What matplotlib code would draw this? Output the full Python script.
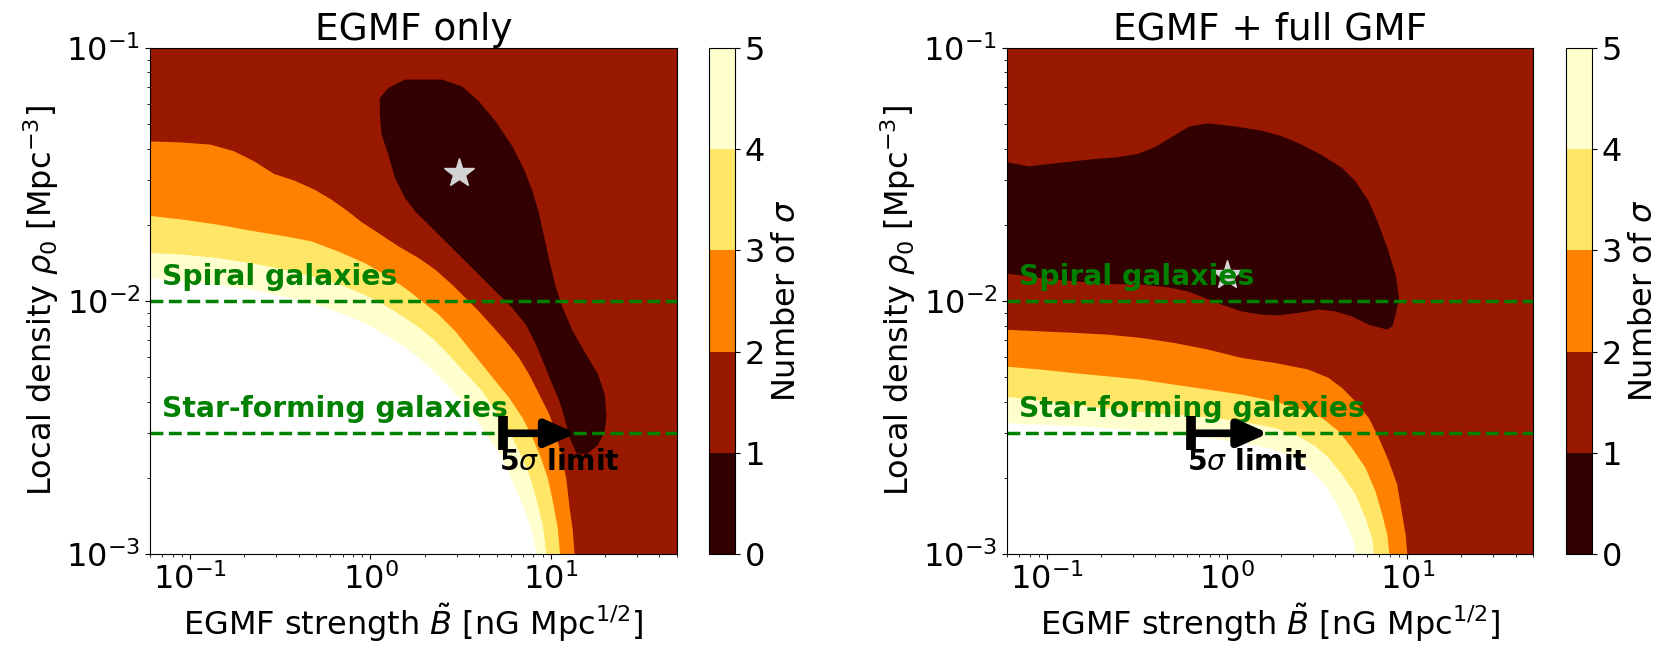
import numpy as np
import matplotlib
matplotlib.use('Agg')
import matplotlib.pyplot as plt
from matplotlib.colors import BoundaryNorm, ListedColormap
from matplotlib.cm import ScalarMappable

sigma_levels = [0, 1, 2, 3, 4, 5]
b_range = (0.06, 50.0)
rho_range = (1e-3, 1e-1)
rho_spiral = 0.01
rho_starforming = 0.003

# contour boundaries in log10(B) and log10(rho0); each band curve runs from the
# left edge down to the bottom edge, the region below/left of it is above that sigma

# --- EGMF only ---
egmf_2sig_b = [-1.25, -1.055, -0.887, -0.757, -0.645, -0.534, -0.422, -0.310, -0.217, -0.124,
               -0.050, 0.043, 0.155, 0.266, 0.359, 0.452, 0.527, 0.601, 0.676, 0.750,
               0.824, 0.880, 0.936, 0.992, 1.029, 1.057, 1.085, 1.104, 1.122, 1.137]
egmf_2sig_rho = [-1.369, -1.373, -1.382, -1.408, -1.448, -1.498, -1.524, -1.560, -1.599, -1.646,
                 -1.688, -1.731, -1.784, -1.830, -1.876, -1.935, -1.988, -2.041, -2.100, -2.159,
                 -2.225, -2.291, -2.370, -2.449, -2.528, -2.607, -2.700, -2.818, -2.910, -3.05]

egmf_3sig_b = [-1.25, -1.036, -0.850, -0.664, -0.478, -0.329, -0.180, -0.031, 0.080, 0.192,
               0.285, 0.378, 0.471, 0.545, 0.620, 0.694, 0.769, 0.843, 0.899, 0.945,
               0.983, 1.011, 1.038, 1.057]
egmf_3sig_rho = [-1.661, -1.679, -1.698, -1.722, -1.744, -1.764, -1.804, -1.850, -1.896, -1.949,
                 -2.001, -2.054, -2.120, -2.186, -2.252, -2.318, -2.383, -2.462, -2.541, -2.620,
                 -2.700, -2.792, -2.897, -3.05]

egmf_4sig_b = [-1.25, -1.036, -0.850, -0.664, -0.478, -0.292, -0.143, 0.006, 0.136, 0.248,
               0.341, 0.434, 0.527, 0.620, 0.694, 0.769, 0.824, 0.880, 0.918, 0.955, 0.983]
egmf_4sig_rho = [-1.809, -1.817, -1.830, -1.850, -1.876, -1.909, -1.942, -1.988, -2.041, -2.094,
                 -2.146, -2.212, -2.285, -2.357, -2.436, -2.515, -2.594, -2.686, -2.779, -2.884, -3.05]

egmf_5sig_b = [-1.25, -1.036, -0.850, -0.664, -0.478, -0.292, -0.143, -0.013, 0.099, 0.211,
               0.322, 0.415, 0.508, 0.583, 0.657, 0.731, 0.787, 0.843, 0.890, 0.936]
egmf_5sig_rho = [-1.909, -1.920, -1.935, -1.955, -1.982, -2.017, -2.054, -2.094, -2.140, -2.192,
                 -2.258, -2.324, -2.397, -2.462, -2.541, -2.620, -2.713, -2.805, -2.897, -3.05]

egmf_1sig_b = [0.192, 0.397, 0.508, 0.601, 0.694, 0.787, 0.852, 0.899, 0.936, 0.964,
               0.992, 1.029, 1.066, 1.122, 1.196, 1.262, 1.299, 1.308, 1.299, 1.262,
               1.196, 1.141, 1.104, 1.076, 1.048, 1.001, 0.964, 0.918, 0.862, 0.787,
               0.694, 0.601, 0.508, 0.415, 0.322, 0.248, 0.192, 0.136, 0.099, 0.062,
               0.052, 0.052, 0.099]
egmf_1sig_rho = [-1.125, -1.125, -1.152, -1.211, -1.290, -1.389, -1.481, -1.567, -1.659, -1.751,
                 -1.843, -1.949, -2.028, -2.120, -2.212, -2.291, -2.370, -2.449, -2.515, -2.568,
                 -2.607, -2.601, -2.541, -2.462, -2.397, -2.318, -2.252, -2.173, -2.094, -2.028,
                 -1.962, -1.896, -1.830, -1.764, -1.698, -1.646, -1.593, -1.514, -1.422, -1.343,
                 -1.264, -1.198, -1.158]

egmf_best = (3.1, 0.032)
egmf_limit = (5.4, 13.8)

# --- EGMF + full GMF ---
gmf_2sig_b = [-1.25, -1.036, -0.850, -0.664, -0.478, -0.292, -0.106, 0.080, 0.266, 0.452,
              0.564, 0.639, 0.713, 0.787, 0.843, 0.899, 0.945, 0.973, 0.992, 1.007]
gmf_2sig_rho = [-2.113, -2.120, -2.126, -2.133, -2.146, -2.166, -2.192, -2.225, -2.245, -2.271,
                -2.304, -2.344, -2.397, -2.462, -2.541, -2.634, -2.726, -2.845, -2.924, -3.05]

gmf_3sig_b = [-1.25, -1.036, -0.850, -0.664, -0.478, -0.292, -0.106, 0.080, 0.266, 0.415,
              0.527, 0.620, 0.694, 0.769, 0.824, 0.862, 0.890, 0.908]
gmf_3sig_rho = [-2.258, -2.271, -2.285, -2.298, -2.311, -2.331, -2.350, -2.370, -2.397, -2.429,
                -2.462, -2.515, -2.581, -2.660, -2.752, -2.845, -2.924, -3.05]

gmf_4sig_b = [-1.25, -1.036, -0.850, -0.664, -0.478, -0.292, -0.106, 0.080, 0.266, 0.397,
              0.490, 0.564, 0.639, 0.713, 0.769, 0.806, 0.824]
gmf_4sig_rho = [-2.377, -2.394, -2.410, -2.426, -2.439, -2.449, -2.460, -2.476, -2.502, -2.535,
                -2.574, -2.620, -2.686, -2.765, -2.858, -2.937, -3.05]

gmf_5sig_b = [-1.25, -1.036, -0.850, -0.664, -0.478, -0.292, -0.106, 0.080, 0.229, 0.359,
              0.452, 0.545, 0.611, 0.666, 0.704, 0.722]
gmf_5sig_rho = [-2.482, -2.489, -2.495, -2.502, -2.512, -2.528, -2.541, -2.561, -2.581, -2.614,
                -2.660, -2.726, -2.805, -2.884, -2.950, -3.05]

gmf_1sig_b = [-1.25, -1.101, -0.943, -0.738, -0.608, -0.496, -0.403, -0.310, -0.208, -0.106,
              0.043, 0.192, 0.304, 0.415, 0.527, 0.639, 0.713, 0.787, 0.843, 0.890,
              0.936, 0.955, 0.936, 0.918, 0.890, 0.787, 0.694, 0.601, 0.508, 0.397,
              0.285, 0.192, 0.080, -0.031, -0.124, -0.217, -0.329, -0.478, -0.664, -0.850,
              -1.036, -1.25]
gmf_1sig_rho = [-1.448, -1.468, -1.455, -1.439, -1.432, -1.419, -1.393, -1.353, -1.310, -1.298,
                -1.310, -1.327, -1.349, -1.382, -1.424, -1.474, -1.527, -1.606, -1.698, -1.790,
                -1.896, -1.988, -2.054, -2.100, -2.113, -2.094, -2.061, -2.041, -2.034, -2.047,
                -2.057, -2.054, -2.041, -2.014, -1.988, -1.962, -1.946, -1.935, -1.933, -1.922,
                -1.909, -1.889]

gmf_best = (1.0, 0.0127)
gmf_limit = (0.63, 1.7)

cmap = plt.get_cmap('afmhot')
band_colors = [cmap((k + 0.5) / 5) for k in range(5)]
FS = 23


def draw_panel(ax, cax, bands, blob, best, limit, title):
    ax.set_xscale('log')
    ax.set_yscale('log')
    ax.set_facecolor(band_colors[1])
    fills = band_colors[2:] + ['white']
    for (lb, lr), c in zip(bands, fills):
        xs = np.array(list(lb) + [lb[-1], -1.3])
        ys = np.array(list(lr) + [-3.1, -3.1])
        ax.fill(10**xs, 10**ys, color=c, lw=0, zorder=1)
    ax.fill(10**np.array(blob[0]), 10**np.array(blob[1]), color=band_colors[0], lw=0, zorder=1.1)

    ax.plot(best[0], best[1], marker='*', color='lightgray', ms=22, zorder=2.5)

    for rho, name in [(rho_spiral, 'Spiral galaxies'), (rho_starforming, 'Star-forming galaxies')]:
        ax.axhline(rho, color='green', ls='--', lw=2.5, zorder=2)
        ax.text(0.07, rho * 1.1, name, color='green', fontsize=20.3, fontweight='bold',
                va='bottom', ha='left', zorder=3)

    ax.annotate('', xy=(limit[1], rho_starforming), xytext=(limit[0], rho_starforming),
                arrowprops=dict(arrowstyle='-|>,head_length=0.9,head_width=0.4', color='black',
                                lw=5.5, shrinkA=0, shrinkB=0, mutation_scale=20), zorder=4)
    ax.plot(limit[0], rho_starforming, marker='|', ms=24, mew=7, color='black', zorder=4)
    ax.text(limit[0] * 0.95, 0.00231, r'5$\sigma$ limit', fontsize=20.3, fontweight='bold',
            va='center', ha='left', zorder=4)

    ax.set_xlim(*b_range)
    ax.set_ylim(*rho_range)
    ax.set_title(title, fontsize=27)
    ax.set_xlabel(r'EGMF strength $\tilde{B}$ [nG Mpc$^{1/2}$]', fontsize=FS)
    ax.set_ylabel(r'Local density $\rho_0$ [Mpc$^{-3}$]', fontsize=FS)
    ax.tick_params(labelsize=FS)

    norm = BoundaryNorm(sigma_levels, 5)
    sm = ScalarMappable(norm=norm, cmap=ListedColormap(band_colors))
    cb = plt.colorbar(sm, cax=cax, ticks=sigma_levels)
    cb.set_label(r'Number of $\sigma$', fontsize=FS)
    cb.ax.tick_params(labelsize=FS)


fig = plt.figure(figsize=(16.67, 6.5), dpi=100)
ax1 = fig.add_axes([0.0900, 0.1477, 0.3161, 0.7785])
cax1 = fig.add_axes([0.4253, 0.1477, 0.0156, 0.7785])
ax2 = fig.add_axes([0.6041, 0.1477, 0.3155, 0.7785])
cax2 = fig.add_axes([0.9394, 0.1477, 0.0156, 0.7785])

draw_panel(ax1, cax1,
           [(egmf_2sig_b, egmf_2sig_rho), (egmf_3sig_b, egmf_3sig_rho),
            (egmf_4sig_b, egmf_4sig_rho), (egmf_5sig_b, egmf_5sig_rho)],
           (egmf_1sig_b, egmf_1sig_rho), egmf_best, egmf_limit, 'EGMF only')
draw_panel(ax2, cax2,
           [(gmf_2sig_b, gmf_2sig_rho), (gmf_3sig_b, gmf_3sig_rho),
            (gmf_4sig_b, gmf_4sig_rho), (gmf_5sig_b, gmf_5sig_rho)],
           (gmf_1sig_b, gmf_1sig_rho), gmf_best, gmf_limit, 'EGMF + full GMF')

fig.savefig('out.png', dpi=100)
